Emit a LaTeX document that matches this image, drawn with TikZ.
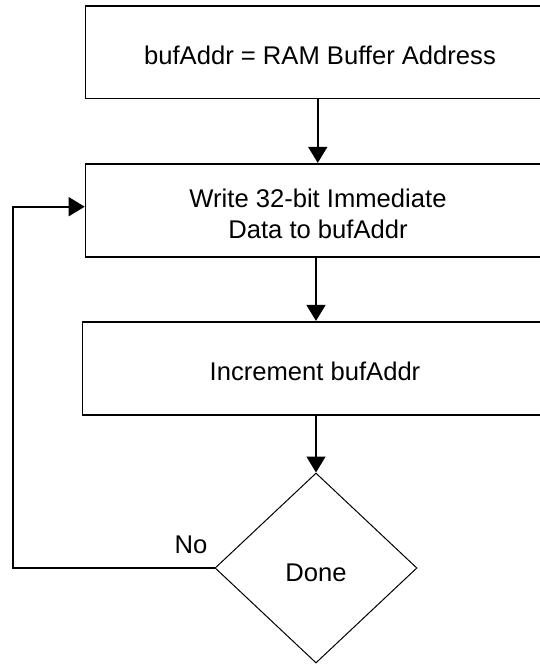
\documentclass[tikz,border=0pt]{standalone}
\usepackage{fontspec}
\setmainfont{Liberation Sans}
\usetikzlibrary{arrows.meta,shapes.geometric}
\begin{document}
\begin{tikzpicture}[x=1pt,y=-1pt,
  box/.style={draw,line width=1.6pt,minimum height=93pt,inner sep=0pt},
  decision/.style={draw,line width=1pt,diamond,minimum width=202pt,minimum height=190pt,inner sep=0pt},
  txt/.style={font=\fontsize{25.6}{31}\selectfont,align=center,inner sep=0pt},
  flow/.style={line width=1.6pt,-{Triangle[width=19pt,length=16pt]}}]
\useasboundingbox (0,0) rectangle (540,666);
% process boxes (they run past the right edge)
\node[box,minimum width=464.5pt,minimum height=92.7pt] (b1) at (317.75,52.35) {};
\node[box,minimum width=464.5pt] (b2) at (317.75,210.2) {};
\node[box,minimum width=465pt,minimum height=93.3pt] (b3) at (315,368.35) {};
\node[decision] (d) at (316,568) {};
% texts
\node[txt] (t1) at (320,55) {bufAddr = RAM Buffer Address};
\node[txt] (t2) at (318,213.5) {Write 32-bit Immediate\\Data to bufAddr};
\node[txt] (t3) at (315,371.7) {Increment bufAddr};
\node[txt] (t4) at (316,573) {Done};
\node[txt] (no) at (191,545) {No};
% connectors
\draw[flow] (b1.south) -- (b2.north);
\draw[flow] (b2.south -| d.north) -- (b3.north -| d.north);
\draw[flow] (b3.south -| d.north) -- (d.north);
\coordinate (c1) at (13,568);
\coordinate (c2) at (13,206.7);
\draw[flow] (d.west) -- (c1) -- (c2) -- (c2 -| b2.west);
\end{tikzpicture}
\end{document}
